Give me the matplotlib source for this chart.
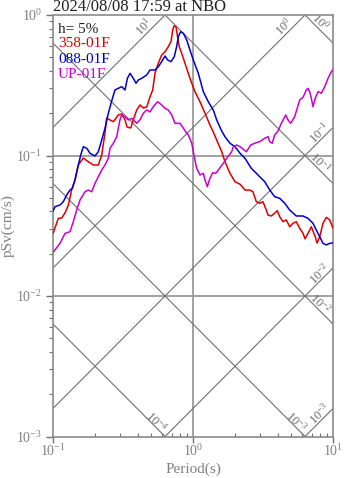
import numpy as np
import matplotlib
matplotlib.use("Agg")
import matplotlib.pyplot as plt
from matplotlib.ticker import LogLocator, NullFormatter

plt.rcParams['font.family'] = ['Liberation Serif', 'DejaVu Serif']
plt.rcParams['mathtext.fontset'] = 'custom'
plt.rcParams['mathtext.rm'] = 'Liberation Serif'
plt.rcParams['mathtext.it'] = 'Liberation Serif:italic'
plt.rcParams['mathtext.bf'] = 'Liberation Serif:bold'

# ---- chart text ----
title = "2024/08/08 17:59 at NBO"
damping_label = "h= 5%"
comp_names = ["358-01F", "088-01F", "UP-01F"]
comp_colors = ["#dd0000", "#0000cc", "#cc00cc"]
x_label = "Period(s)"
y_label = "pSv(cm/s)"

# ---- pseudo-velocity response spectra (period s, pSv cm/s) ----
period_ns = [0.100, 0.1028, 0.1086, 0.1148, 0.1213, 0.1281, 0.1352, 0.1428, 0.1509, 0.1637,
             0.1778, 0.1931, 0.2097, 0.2217, 0.2340, 0.2405, 0.2541, 0.2685, 0.2912, 0.3083,
             0.3252, 0.3360, 0.3573, 0.3726, 0.3942, 0.4161, 0.4393, 0.4648, 0.4906, 0.5129,
             0.5325, 0.5623, 0.5943, 0.6280, 0.6627, 0.6928, 0.7129, 0.7278, 0.7516, 0.7684,
             0.7940, 0.8260, 0.8723, 0.9206, 0.9750, 1.028, 1.116, 1.213, 1.315, 1.389,
             1.469, 1.595, 1.683, 1.828, 1.985, 2.157, 2.340, 2.527, 2.668, 2.818,
             2.979, 3.145, 3.321, 3.417, 3.607, 3.811, 3.981, 4.140, 4.372, 4.613,
             4.883, 5.152, 5.442, 5.754, 6.081, 6.281, 6.597, 6.966, 7.430, 7.656,
             8.000, 8.440, 8.912, 9.419, 10.0]
psv_ns = [0.0281, 0.0305, 0.0357, 0.0359, 0.0390, 0.0444, 0.0568, 0.0669, 0.0856, 0.0960,
          0.0903, 0.0856, 0.0856, 0.1008, 0.1446, 0.1849, 0.1791, 0.1740, 0.1942, 0.1974,
          0.1791, 0.1596, 0.1570, 0.1791, 0.2108, 0.2288, 0.2179, 0.2215, 0.2610, 0.2926,
          0.3846, 0.4532, 0.5192, 0.5479, 0.5947, 0.6457, 0.7818, 0.8353, 0.8257, 0.7209,
          0.5947, 0.5337, 0.4532, 0.3846, 0.3266, 0.2845, 0.2415, 0.1996, 0.1648, 0.1470,
          0.1289, 0.1064, 0.0903, 0.0747, 0.0651, 0.0624, 0.0568, 0.0568, 0.0552, 0.0469,
          0.0457, 0.0469, 0.0409, 0.0377, 0.0371, 0.0388, 0.0405, 0.0367, 0.0338, 0.0348,
          0.0311, 0.0329, 0.0338, 0.0303, 0.0279, 0.0255, 0.0279, 0.0311, 0.0264, 0.0238,
          0.0264, 0.0329, 0.0363, 0.0348, 0.0300]

period_ew = [0.100, 0.1028, 0.1116, 0.1179, 0.1246, 0.1316, 0.1367, 0.1428, 0.1509, 0.1570,
             0.1637, 0.1734, 0.1829, 0.1985, 0.2097, 0.2217, 0.2340, 0.2472, 0.2612, 0.2758,
             0.2912, 0.3083, 0.3252, 0.3382, 0.3532, 0.3726, 0.3898, 0.4046, 0.4276, 0.4648,
             0.4906, 0.5325, 0.5623, 0.5943, 0.6280, 0.6563, 0.6928, 0.7311, 0.7603, 0.7814,
             0.8122, 0.8492, 0.8976, 0.9462, 1.000, 1.086, 1.179, 1.279, 1.389, 1.469,
             1.595, 1.683, 1.828, 1.985, 2.157, 2.340, 2.594, 2.897, 3.236, 3.515,
             3.811, 4.140, 4.499, 4.883, 5.442, 6.081, 6.597, 7.161, 7.563, 8.000,
             8.440, 8.912, 9.419, 10.0]
psv_ew = [0.0405, 0.0432, 0.0444, 0.0469, 0.0523, 0.0568, 0.0584, 0.0669, 0.0856, 0.1008,
          0.1155, 0.1125, 0.1037, 0.0992, 0.1064, 0.1289, 0.1562, 0.1996, 0.2443, 0.2926,
          0.3008, 0.3089, 0.2926, 0.3541, 0.3846, 0.3541, 0.3266, 0.3445, 0.3541, 0.3741,
          0.4061, 0.4061, 0.4285, 0.4654, 0.5108, 0.4783, 0.4654, 0.5048, 0.5947, 0.7012,
          0.7603, 0.7411, 0.6637, 0.5636, 0.4783, 0.3846, 0.2845, 0.2415, 0.2108, 0.1791,
          0.1494, 0.1361, 0.1222, 0.1155, 0.1037, 0.0955, 0.0811, 0.0727, 0.0651, 0.0568,
          0.0509, 0.0496, 0.0457, 0.0409, 0.0371, 0.0371, 0.0357, 0.0329, 0.0295, 0.0264,
          0.0237, 0.0231, 0.0237, 0.0239]

period_ud = [0.100, 0.1028, 0.1116, 0.1213, 0.1316, 0.1390, 0.1468, 0.1552, 0.1684, 0.1778,
             0.1879, 0.1985, 0.2097, 0.2217, 0.2340, 0.2472, 0.2541, 0.2685, 0.2838, 0.2992,
             0.3083, 0.3252, 0.3433, 0.3630, 0.3942, 0.4161, 0.4393, 0.4648, 0.4906, 0.5176,
             0.5564, 0.5943, 0.6280, 0.6627, 0.7015, 0.7400, 0.8035, 0.8492, 0.8976, 0.9206,
             0.9750, 1.016, 1.057, 1.116, 1.179, 1.213, 1.259, 1.315, 1.376, 1.446,
             1.509, 1.637, 1.732, 1.880, 1.931, 2.041, 2.157, 2.393, 2.573, 2.747,
             2.979, 3.236, 3.417, 3.515, 3.664, 3.811, 4.027, 4.256, 4.571, 4.742,
             4.966, 5.297, 5.754, 6.081, 6.412, 6.597, 6.781, 6.966, 7.161, 7.430,
             7.780, 8.204, 8.690, 9.165, 9.683, 10.0]
psv_ud = [0.0206, 0.0213, 0.0237, 0.0279, 0.0287, 0.0338, 0.0409, 0.0482, 0.0552, 0.0568,
          0.0552, 0.0634, 0.0707, 0.0788, 0.0856, 0.0955, 0.1125, 0.1222, 0.1361, 0.1791,
          0.1942, 0.1889, 0.1791, 0.1839, 0.1695, 0.1791, 0.1996, 0.2108, 0.2040, 0.2225,
          0.2415, 0.2288, 0.2168, 0.2108, 0.1942, 0.1695, 0.1695, 0.1562, 0.1439, 0.1400,
          0.1222, 0.0980, 0.0811, 0.0727, 0.0747, 0.0669, 0.0600, 0.0688, 0.0754, 0.0747,
          0.0788, 0.0880, 0.0955, 0.1064, 0.1155, 0.1188, 0.1155, 0.1064, 0.1188, 0.1222,
          0.1254, 0.1325, 0.1361, 0.1254, 0.1222, 0.1400, 0.1494, 0.1695, 0.1942, 0.1791,
          0.1695, 0.1889, 0.2483, 0.2596, 0.2926, 0.3008, 0.2845, 0.2553, 0.2225, 0.2553,
          0.2845, 0.2772, 0.3089, 0.3541, 0.3947, 0.4108]

# tripartite guide levels
accel_levels = [1e1, 1e0, 1e-1, 1e-2, 1e-3]   # pseudo-acceleration, cm/s^2
disp_levels = [1e0, 1e-1, 1e-2, 1e-3, 1e-4]   # displacement, cm

T_MIN, T_MAX = 0.1, 10.0
V_MIN, V_MAX = 1e-3, 1.0

W, H, DPI = 347, 478, 100
fig = plt.figure(figsize=(W / DPI, H / DPI), dpi=DPI)
ax = fig.add_axes([53.3 / W, 1 - 436.5 / H, 280.0 / W, 421.5 / H])
ax.set_xscale('log')
ax.set_yscale('log')
ax.set_xlim(T_MIN, T_MAX)
ax.set_ylim(V_MIN, V_MAX)

guide_col = '#707070'
grid_col = '#9a9a9a'
label_col = '#808080'

# reference grid at decades
ax.axvline(1.0, color=grid_col, lw=1.3, zorder=1)
for v in (1e-1, 1e-2):
    ax.axhline(v, color=grid_col, lw=1.3, zorder=1)

two_pi = 2 * np.pi
t_span = np.array([T_MIN / 10, T_MAX * 10])
px_pt = 72.0 / DPI


def label_guide(xy, dx_px, dy_px, rot, txt):
    ax.annotate(txt, xy=xy, xycoords='data',
                xytext=(dx_px * px_pt, dy_px * px_pt), textcoords='offset points',
                rotation=rot, rotation_mode='anchor', ha='center', va='center',
                fontsize=9, color='#6a6a6a', zorder=2, annotation_clip=False)


def pow_label(v):
    return r'$\mathregular{10^{%d}}$' % int(round(np.log10(v)))


# constant pseudo-acceleration lines (slope +1)
for a in accel_levels:
    ax.plot(t_span, a * t_span / two_pi, color=guide_col, lw=0.8, zorder=1)
    t_top = two_pi * V_MAX / a
    if t_top <= T_MAX:
        label_guide((t_top, V_MAX), -21, -12, 45, pow_label(a))
    else:
        label_guide((T_MAX, a * T_MAX / two_pi), -14, -6, 45, pow_label(a))

# constant displacement lines (slope -1)
for d in disp_levels:
    ax.plot(t_span, two_pi * d / t_span, color=guide_col, lw=0.8, zorder=1)
    v_right = two_pi * d / T_MAX
    if v_right >= V_MIN:
        label_guide((T_MAX, v_right), -13, 21, -45, pow_label(d))
    else:
        label_guide((two_pi * d / V_MIN, V_MIN), -9, 15, -45, pow_label(d))

# spectra
series = [(period_ns, psv_ns), (period_ew, psv_ew), (period_ud, psv_ud)]
for (t, v), col in zip(series, comp_colors):
    ax.plot(t, v, color=col, lw=1.1, zorder=3)

# in-plot annotations
ax.text(0.017, 0.966, damping_label, transform=ax.transAxes, fontsize=11,
        color='#202020', va='center', ha='left', zorder=4)
for i, (name, col) in enumerate(zip(comp_names, comp_colors)):
    ax.text(0.017, 0.932 - i * 0.0365, name, transform=ax.transAxes, fontsize=11,
            color=col, va='center', ha='left', zorder=4)

ax.set_title(title, loc='left', fontsize=12, pad=2, color='#202020')

# axes styling
for s in ax.spines.values():
    s.set_color('#8a8a8a')
    s.set_linewidth(1.2)
ax.xaxis.set_major_locator(LogLocator(base=10, numticks=10))
ax.yaxis.set_major_locator(LogLocator(base=10, numticks=10))
ax.xaxis.set_minor_locator(LogLocator(base=10, subs=np.arange(2, 10), numticks=20))
ax.yaxis.set_minor_locator(LogLocator(base=10, subs=np.arange(2, 10), numticks=20))
ax.xaxis.set_minor_formatter(NullFormatter())
ax.yaxis.set_minor_formatter(NullFormatter())
ax.tick_params(which='both', colors='#707070', labelcolor=label_col, labelsize=10)
ax.tick_params(axis='y', which='major', direction='out', length=5, width=1, pad=3)
ax.tick_params(axis='y', which='minor', direction='out', length=3, width=0.8)
ax.tick_params(axis='x', which='major', direction='out', length=4, width=1, pad=1)
ax.tick_params(axis='x', which='minor', direction='in', length=3, width=0.8)

ax.set_xlabel(x_label, fontsize=11, color=label_col)
ax.set_ylabel(y_label, fontsize=11, color=label_col)
ax.xaxis.set_label_coords(0.5, (436.5 - 462.5) / 421.5)
ax.yaxis.set_label_coords((15.0 - 53.3) / 280.0, 0.5)

fig.savefig('out.png', dpi=DPI)
